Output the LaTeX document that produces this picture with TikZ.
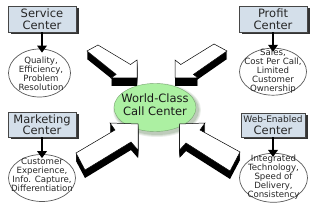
\documentclass[tikz,border=0pt]{standalone}
\usepackage{fontspec}
\setmainfont{DejaVu Sans}
\usetikzlibrary{shadows,arrows.meta,shapes.geometric}
\definecolor{boxfill}{RGB}{212,223,234}
\definecolor{boxline}{RGB}{70,70,70}
\definecolor{ccgreen}{RGB}{172,240,162}
\definecolor{ccshadow}{RGB}{95,130,90}
\tikzset{
  catbox/.style={rectangle, draw=boxline, line width=0.8pt, fill=boxfill, inner sep=0pt,
    align=center, font=\fontsize{11.5}{11.5}\selectfont, text=black!85,
    drop shadow={shadow xshift=2.5pt, shadow yshift=-2.5pt, fill=black!80, opacity=1}},
  detell/.style={ellipse, draw=black!65, line width=0.7pt, fill=white, inner sep=0pt},
  dettext/.style={inner sep=0pt, align=center, font=\fontsize{8.6}{9}\selectfont, text=black!85},
  ccell/.style={ellipse, fill=ccgreen, draw=ccgreen!70!black, line width=0.4pt, inner sep=0pt,
    minimum width=82pt, minimum height=48pt},
  cctext/.style={inner sep=0pt, align=center, font=\fontsize{11.5}{12.5}\selectfont, text=black!90},
  downarr/.style={line width=2.8pt, -{Triangle[width=9.5pt,length=7pt]}, black, shorten >=-4pt},
  bigarr/.style={fill=white, draw=black, line width=0.5pt, line join=miter},
  pTL/.style={insert path={(137,78) -- (111,78) -- (116.2,74.4) -- (87,51) -- (98,45) -- (130.5,64.5) -- (137,60) -- cycle}},
  pTR/.style={insert path={(175,78) -- (198,78) -- (193.4,74.4) -- (227,51) -- (214,44) -- (180.8,64.5) -- (175,60) -- cycle}},
  pBL/.style={insert path={(138,124) -- (110,123) -- (115,130) -- (76,153) -- (85,170) -- (131,142) -- (138,150) -- cycle}},
  pBR/.style={insert path={(179.5,124) -- (205,123) -- (200,130) -- (240,152) -- (230,171) -- (186,143) -- (179.5,150) -- cycle}},
}
\begin{document}
\begin{tikzpicture}[x=1pt,y=-1pt]
\useasboundingbox (0,0) rectangle (320,213);
\fill[white] (0,0) rectangle (320,213);

% central ellipse with soft shadow
\foreach \i/\o in {3/0.12,2/0.15,1/0.2}
  \fill[ccshadow,opacity=\o] (157,110) ellipse ({41+\i} and {24+\i});
\node[ccell] (cc) at (155,107.5) {};
\node[cctext] (cct) at (155,104.5) {World-Class\\Call Center};

% four big 3D arrows pointing to the centre
\foreach \p in {pTL,pTR,pBL,pBR}{
  \foreach \d in {1,...,8}
    \fill[black, yshift=-\d pt, \p];
  \path[bigarr, \p];
}

% category boxes
\node[catbox, minimum width=68pt, minimum height=26pt] (sbox) at (42,19) {Service\\Center};
\node[catbox, minimum width=68pt, minimum height=26pt] (pbox) at (273,19) {Profit\\Center};
\node[catbox, minimum width=68pt, minimum height=25pt] (mbox) at (42,124.5) {Marketing\\Center};
\node[catbox, minimum width=64pt, minimum height=24pt] (wbox) at (273,125)
  {{\fontsize{9}{9}\selectfont Web-Enabled}\\[1pt]Center};

% detail ellipses
\node[detell, minimum width=62pt, minimum height=48pt] (sell) at (39.5,73) {};
\node[dettext] at (41,74) {Quality,\\Efficiency,\\Problem\\Resolution};
\node[detell, minimum width=67pt, minimum height=47pt] (pell) at (273,71.7) {};
\node[dettext] at (273,71) {Sales,\\Cost Per Call,\\Limited\\Customer\\Ownership};
\node[detell, minimum width=67pt, minimum height=47pt] (mell) at (42,178) {};
\node[dettext] at (42,174.5) {Customer\\Experience,\\Info. Capture,\\Differentiation};
\node[detell, minimum width=68pt, minimum height=49pt] (well) at (273.5,177.8) {};
\node[dettext] at (273.5,177.5) {Integrated\\Technology,\\Speed of\\Delivery,\\Consistency};

% small arrows from boxes to ellipses
\draw[downarr] (sbox.south) -- (sbox.south |- sell.north);
\draw[downarr] (pbox.south) -- (pbox.south |- pell.north);
\draw[downarr] (mbox.south) -- (mbox.south |- mell.north);
\draw[downarr] (wbox.south) -- (wbox.south |- well.north);
\end{tikzpicture}
\end{document}
